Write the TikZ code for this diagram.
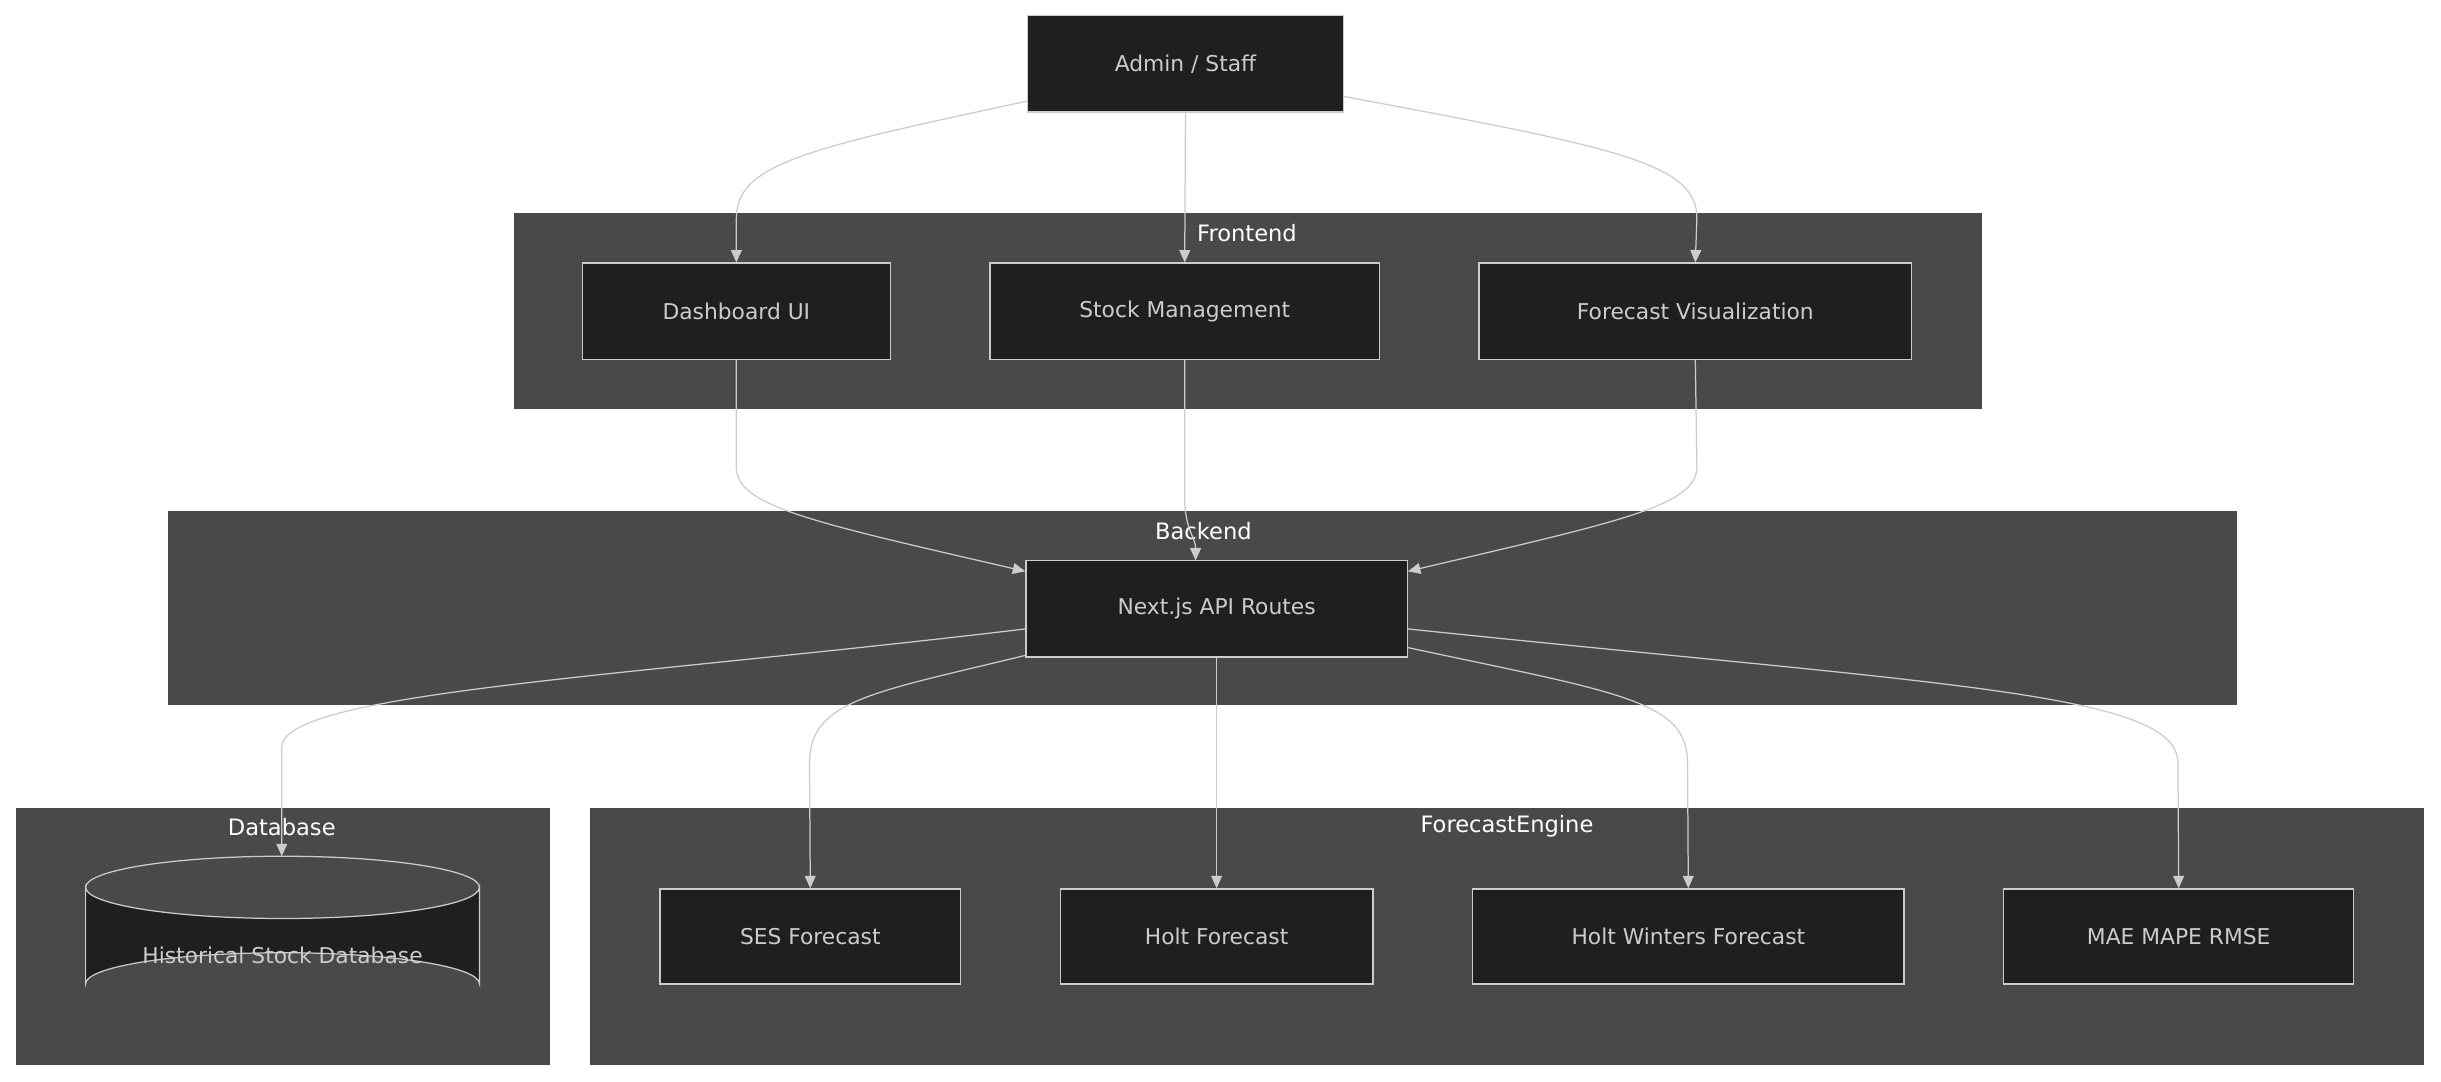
\documentclass[tikz,border=0pt]{standalone}
\usepackage{fontspec}
\setmainfont{DejaVu Sans}
\usetikzlibrary{arrows.meta,shapes.geometric}
\definecolor{clbg}{HTML}{484A49}
\definecolor{ndbg}{HTML}{1F1F1F}
\definecolor{ln}{HTML}{CCCCCC}
\begin{document}
\begin{tikzpicture}[x=1pt,y=-1pt,
  box/.style={draw=ln,fill=ndbg,line width=0.8pt,text=ln,font=\fontsize{14}{16}\selectfont,inner sep=0pt},
  cl/.style={fill=clbg,draw=none},
  ttl/.style={text=white,font=\fontsize{14.5}{16}\selectfont},
  ar/.style={draw=ln,line width=0.8pt,-{Triangle[length=8pt,width=7pt]}}]
\useasboundingbox[fill=white] (0,0) rectangle (1568,695);
% clusters
\fill[cl] (330,137) rectangle (1273,263);
\fill[cl] (108,328) rectangle (1437,453);
\fill[cl] (10,519) rectangle (353,684);
\fill[cl] (379,519) rectangle (1557,684);
% nodes
\node[box,minimum width=203pt,minimum height=62pt] (admin) at (761.5,41) {Admin / Staff};
\node[box,minimum width=198pt,minimum height=62pt] (dash) at (473,200) {Dashboard UI};
\node[box,minimum width=250pt,minimum height=62pt] (stock) at (761,200) {Stock Management};
\node[box,minimum width=278pt,minimum height=62pt] (fv) at (1089,200) {Forecast Visualization};
\node[box,minimum width=245pt,minimum height=62pt] (api) at (781.5,391) {Next.js API Routes};
\node[box,minimum width=193pt,minimum height=61pt] (ses) at (520.5,601.5) {SES Forecast};
\node[box,minimum width=201pt,minimum height=61pt] (holt) at (781.5,601.5) {Holt Forecast};
\node[box,minimum width=277pt,minimum height=61pt] (hw) at (1084.5,601.5) {Holt Winters Forecast};
\node[box,minimum width=225pt,minimum height=61pt] (mae) at (1399.5,601.5) {MAE MAPE RMSE};
% cylinder
\coordinate (dbtop) at (181,550);
\draw[ln,line width=0.8pt,fill=ndbg] (55,570) -- (55,632) arc[start angle=180,end angle=360,x radius=126.5,y radius=20] -- (308,570) arc[start angle=0,end angle=180,x radius=126.5,y radius=20] -- cycle;
\draw[ln,line width=0.8pt] (55,570) arc[start angle=180,end angle=360,x radius=126.5,y radius=20];
\node[text=ln,font=\fontsize{14}{16}\selectfont] (db) at (181.5,614) {Historical Stock Database};
% titles
\node[ttl] (tf) at (801,150) {Frontend};
\node[ttl] (tb) at (773,341) {Backend};
\node[ttl] (td) at (181,531) {Database};
\node[ttl] (te) at (968,531) {ForecastEngine};
% edges
\draw[ar] (admin.west|-0,65) .. controls (520,95) and (473,105) .. (473,140) -- (dash.north);
\draw[ar] (admin.south) -- (stock.north);
\draw[ar] (admin.east|-0,62) .. controls (1040,95) and (1090,105) .. (1090,140) -- (fv.north);
\draw[ar] (dash.south) -- (473,300) .. controls (473,325) and (520,335) .. (api.west|-0,367);
\draw[ar] (stock.south) -- (761,320) .. controls (761,340) and (768,345) .. (768,360);
\draw[ar] (fv.south) -- (1090,300) .. controls (1090,325) and (1040,335) .. (api.east|-0,367);
\draw[ar] (api.west|-0,404) .. controls (400,435) and (181,445) .. (181,480) -- (dbtop);
\draw[ar] (api.west|-0,421) .. controls (560,445) and (520,450) .. (520,490) -- (ses.north);
\draw[ar] (api.south) -- (holt.north);
\draw[ar] (api.east|-0,416) .. controls (1040,445) and (1084,450) .. (1084,490) -- (hw.north);
\draw[ar] (api.east|-0,404) .. controls (1250,440) and (1399,445) .. (1399,490) -- (mae.north);
\end{tikzpicture}
\end{document}
